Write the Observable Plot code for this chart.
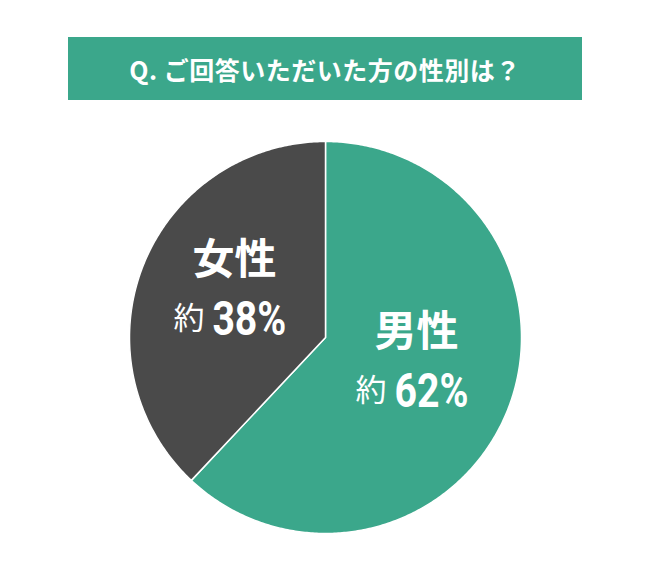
<!DOCTYPE html>
<html>
<head>
<meta charset="utf-8">
<script src="https://cdn.jsdelivr.net/npm/d3@7"></script>
<script src="https://cdn.jsdelivr.net/npm/@observablehq/plot@0.6"></script>
<style>
  html, body { margin: 0; padding: 0; background: #ffffff; }
  body { width: 650px; height: 585px; position: relative; overflow: hidden; }
  #title {
    position: absolute; left: 68px; top: 37px; width: 514px; height: 63px;
    background: #3ba78b; color: #ffffff;
    display: flex; align-items: center; justify-content: center;
    font-family: "Noto Sans CJK JP", "Noto Sans", sans-serif;
    font-weight: 700; font-size: 25px; letter-spacing: 0.5px;
  }
  #chart { position: absolute; left: 0; top: 110px; }
</style>
</head>
<body>
<div id="title">Q. ご回答いただいた方の性別は？</div>
<div id="chart"></div>
<script>
const title = "Q. ご回答いただいた方の性別は？";
const categories = ["男性", "女性"];
const values = [62, 38];
const prefix = "約";
const colors = ["#3ba78b", "#4a4a4a"];

const pie = d3.pie().sort(null).value(d => d.value);
const arcs = pie(categories.map((c, i) => ({category: c, value: values[i]})));

// Polygon points for each slice (angles clockwise from 12 o'clock)
const slicePts = [];
arcs.forEach(a => {
  const n = Math.max(2, Math.ceil((a.endAngle - a.startAngle) / 0.01));
  slicePts.push({category: a.data.category, x: 0, y: 0});
  for (let k = 0; k <= n; k++) {
    const t = a.startAngle + (a.endAngle - a.startAngle) * k / n;
    slicePts.push({category: a.data.category, x: Math.sin(t), y: Math.cos(t)});
  }
  slicePts.push({category: a.data.category, x: 0, y: 0});
});

const labels = arcs.map(a => {
  const m = (a.startAngle + a.endAngle) / 2;
  return {category: a.data.category, pct: a.data.value + "%", x: 0.5 * Math.sin(m), y: 0.5 * Math.cos(m)};
});

const chart = Plot.plot({
  width: 650,
  height: 460,
  marginLeft: 129,
  marginRight: 129,
  marginTop: 31,
  marginBottom: 37,
  x: {domain: [-1, 1], axis: null},
  y: {domain: [-1, 1], axis: null},
  color: {domain: categories, range: colors},
  style: {background: "transparent"},
  marks: [
    Plot.line(slicePts, {x: "x", y: "y", z: "category", fill: "category", stroke: "#ffffff", strokeWidth: 1.5, curve: "linear"}),
    Plot.text(labels, {x: "x", y: "y", text: "category", dy: -41, fill: "#ffffff",
      fontSize: 42, fontWeight: 700, fontFamily: "Noto Sans CJK JP"}),
    Plot.text(labels, {x: "x", y: "y", text: d => prefix, dy: 18, dx: -30, textAnchor: "end", fill: "#ffffff",
      fontSize: 31, fontWeight: 400, fontFamily: "Noto Sans CJK JP"}),
    Plot.text(labels, {x: "x", y: "y", text: "pct", dy: 18, dx: -22, textAnchor: "start", fill: "#ffffff",
      fontSize: 49, fontWeight: 700, fontFamily: "Roboto, sans-serif", className: "pct"})
  ]
});
// Condense the percentage numbers horizontally around their start anchor
d3.select(chart).selectAll(".pct text").each(function() {
  const el = d3.select(this);
  const t = el.attr("transform");
  if (t) {
    el.attr("transform", t + " scale(0.8,1)");
  } else {
    const x = +el.attr("x") || 0, y = +el.attr("y") || 0;
    el.attr("transform", `translate(${x},${y}) scale(0.8,1) translate(${-x},${-y})`);
  }
});
document.getElementById("chart").appendChild(chart);
</script>
</body>
</html>
